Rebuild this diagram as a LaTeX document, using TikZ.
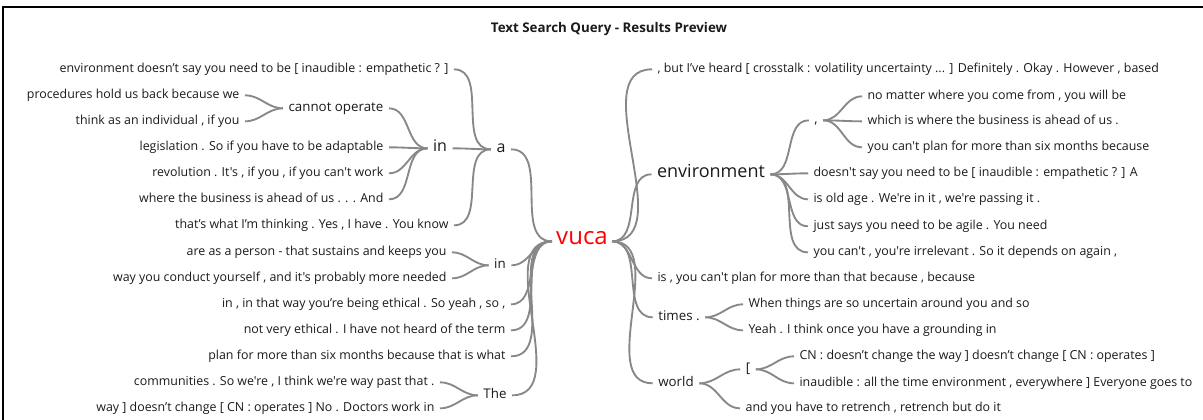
\documentclass[tikz,border=0pt]{standalone}
\usepackage{fontspec}
\setmainfont{Open Sans}[Ligatures=TeXOff]
\definecolor{txt}{HTML}{1A1A1A}
\definecolor{branch}{HTML}{888888}
\begin{document}
\begin{tikzpicture}[x=0.75pt,y=-0.75pt]
		\tikzset{word/.style = {inner xsep=4pt, inner ysep=0pt, text height=1.2ex, text depth=0.2ex, yshift=-1pt, text=txt, font=\fontsize{9.3}{10}\selectfont}}
		\tikzset{leafl/.style = {word, anchor=east}}
		\tikzset{leafr/.style = {word, anchor=west}}
		\tikzset{hub/.style = {word, font=\fontsize{10}{12}\selectfont}}
		\tikzset{edge/.style = {draw=branch, line width=1.4pt, out=0, in=180}}
		
		\useasboundingbox (0,0) rectangle (1203,420);
		\draw[line width=0.8pt] (3,420) -- (3,7) -- (1203,7);
		\node[word, font=\bfseries\fontsize{10}{12}\selectfont] (0) at (609,28) {Text Search Query - Results Preview};
		
		\node[word, text=red, inner xsep=3pt, font=\fontsize{18}{20}\selectfont] (1) at (582,240) {vuca};
		
		\node[hub, font=\fontsize{12}{14}\selectfont]  (2) at (501,148) {a};
		\node[hub, font=\fontsize{12}{14}\selectfont]  (3) at (440,147) {in};
		\node[hub]   (4) at (336,107) {cannot operate};
		\node[leafl] (5) at (245, 94) {procedures hold us back because we};
		\node[leafl] (6) at (245,120) {think as an individual , if you};
		\node[leafl] (7) at (454, 68) {environment doesn’t say you need to be [ inaudible : empathetic ? ]};
		\node[leafl] (8) at (389,146) {legislation . So if you have to be adaptable};
		\node[leafl] (9) at (389,172) {revolution . It's , if you , if you can't work};
		\node[leafl] (10) at (389,198) {where the business is ahead of us . . . And};
		\node[leafl] (11) at (454,224) {that’s what I’m thinking . Yes , I have . You know};
		\node[hub]   (12) at (500,264) {in};
		\node[leafl] (13) at (452,251) {are as a person - that sustains and keeps you};
		\node[leafl] (14) at (452,277) {way you conduct yourself , and it's probably more needed};
		\node[leafl] (15) at (511,303) {in , in that way you’re being ethical . So yeah , so ,};
		\node[leafl] (16) at (511,329) {not very ethical . I have not heard of the term};
		\node[leafl] (17) at (511,355) {plan for more than six months because that is what};
		\node[hub]   (18) at (495,394) {The};
		\node[leafl] (19) at (440,381) {communities . So we're , I think we're way past that .};
		\node[leafl] (20) at (440,407) {way ] doesn’t change [ CN : operates ] No . Doctors work in};
		
		\node[leafr] (21) at (652, 68) {, but I’ve heard [ crosstalk : volatility uncertainty ... ] Definitely . Okay . However , based};
		\node[hub, font=\fontsize{13.5}{15}\selectfont] (22) at (711,173) {environment};
		\node[hub]   (23) at (816,119) {,};
		\node[leafr] (24) at (862, 95) {no matter where you come from , you will be};
		\node[leafr] (25) at (862,120) {which is where the business is ahead of us .};
		\node[leafr] (26) at (862,146) {you can't plan for more than six months because};
		\node[leafr] (27) at (808,172) {doesn't say you need to be [ inaudible : empathetic ? ] A};
		\node[leafr] (28) at (808,198) {is old age . We're in it , we're passing it .};
		\node[leafr] (29) at (808,225) {just says you need to be agile . You need};
		\node[leafr] (30) at (808,251) {you can't , you're irrelevant . So it depends on again ,};
		\node[leafr] (31) at (652,277) {is , you can't plan for more than that because , because};
		\node[hub]   (32) at (679,316) {times .};
		\node[leafr] (33) at (743,303) {When things are so uncertain around you and so};
		\node[leafr] (34) at (743,329) {Yeah . I think once you have a grounding in};
		\node[hub]   (35) at (676,382) {world};
		\node[hub]   (36) at (748,368) {[};
		\node[leafr] (37) at (794,355) {CN : doesn’t change the way ] doesn’t change [ CN : operates ]};
		\node[leafr] (38) at (794,382) {inaudible : all the time environment , everywhere ] Everyone goes to};
		\node[leafr] (39) at (740,407) {and you have to retrench , retrench but do it};
		
		\draw[edge]  (5) to  (4);
		\draw[edge]  (6) to  (4);
		\draw[edge]  (4) to  (3);
		\draw[edge]  (8) to  (3);
		\draw[edge]  (9) to  (3);
		\draw[edge] (10) to  (3);
		\draw[edge]  (7) to  (2);
		\draw[edge]  (3) to  (2);
		\draw[edge] (11) to  (2);
		\draw[edge]  (2) to  (1);
		\draw[edge] (13) to (12);
		\draw[edge] (14) to (12);
		\draw[edge] (12) to  (1);
		\draw[edge] (15) to  (1);
		\draw[edge] (16) to  (1);
		\draw[edge] (17) to  (1);
		\draw[edge] (19) to (18);
		\draw[edge] (20) to (18);
		\draw[edge] (18) to  (1);
		
		\draw[edge]  (1) to (21);
		\draw[edge]  (1) to (22);
		\draw[edge]  (1) to (31);
		\draw[edge]  (1) to (32);
		\draw[edge]  (1) to (35);
		\draw[edge] (22) to (23);
		\draw[edge] (22) to (27);
		\draw[edge] (22) to (28);
		\draw[edge] (22) to (29);
		\draw[edge] (22) to (30);
		\draw[edge] (23) to (24);
		\draw[edge] (23) to (25);
		\draw[edge] (23) to (26);
		\draw[edge] (32) to (33);
		\draw[edge] (32) to (34);
		\draw[edge] (35) to (36);
		\draw[edge] (35) to (39);
		\draw[edge] (36) to (37);
		\draw[edge] (36) to (38);
		\end{tikzpicture}
\end{document}
